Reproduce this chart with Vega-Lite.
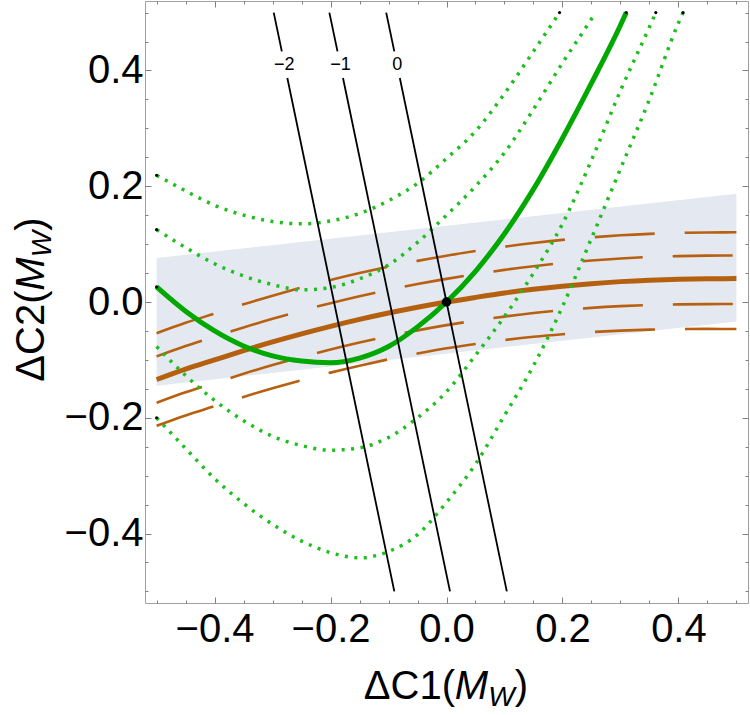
{
  "$schema": "https://vega.github.io/schema/vega-lite/v6.json",
  "width": 603,
  "height": 602,
  "autosize": {"type": "none"},
  "padding": {"left": 145, "top": 1, "right": 2, "bottom": 112},
  "background": "white",
  "config": {
    "view": {"stroke": "#a0a0a0", "strokeWidth": 1},
    "font": "Liberation Sans"
  },
  "datasets": {
    "band": [
      {"x": -0.5, "y": 0.076, "lo": -0.1446},
      {"x": 0.5, "y": 0.187, "lo": -0.0335}
    ],
    "curves": [
      {"s": "brown", "x": -0.5, "y": -0.134}, {"s": "brown", "x": -0.45, "y": -0.116}, {"s": "brown", "x": -0.4, "y": -0.1}, {"s": "brown", "x": -0.35, "y": -0.084}, {"s": "brown", "x": -0.3, "y": -0.069}, {"s": "brown", "x": -0.25, "y": -0.055}, {"s": "brown", "x": -0.2, "y": -0.042}, {"s": "brown", "x": -0.15, "y": -0.03}, {"s": "brown", "x": -0.1, "y": -0.019}, {"s": "brown", "x": -0.05, "y": -0.009}, {"s": "brown", "x": 0, "y": 0}, {"s": "brown", "x": 0.05, "y": 0.008}, {"s": "brown", "x": 0.1, "y": 0.0155}, {"s": "brown", "x": 0.15, "y": 0.0219}, {"s": "brown", "x": 0.2, "y": 0.0273}, {"s": "brown", "x": 0.25, "y": 0.0317}, {"s": "brown", "x": 0.3, "y": 0.0352}, {"s": "brown", "x": 0.35, "y": 0.0377}, {"s": "brown", "x": 0.4, "y": 0.0393}, {"s": "brown", "x": 0.45, "y": 0.0401}, {"s": "brown", "x": 0.5, "y": 0.0404},

      {"s": "u2", "x": -0.5, "y": -0.054}, {"s": "u2", "x": -0.45, "y": -0.036}, {"s": "u2", "x": -0.4, "y": -0.02}, {"s": "u2", "x": -0.35, "y": -0.004}, {"s": "u2", "x": -0.3, "y": 0.011}, {"s": "u2", "x": -0.25, "y": 0.025}, {"s": "u2", "x": -0.2, "y": 0.038}, {"s": "u2", "x": -0.15, "y": 0.05}, {"s": "u2", "x": -0.1, "y": 0.061}, {"s": "u2", "x": -0.05, "y": 0.071}, {"s": "u2", "x": 0, "y": 0.08}, {"s": "u2", "x": 0.05, "y": 0.088}, {"s": "u2", "x": 0.1, "y": 0.0955}, {"s": "u2", "x": 0.15, "y": 0.1019}, {"s": "u2", "x": 0.2, "y": 0.1073}, {"s": "u2", "x": 0.25, "y": 0.1117}, {"s": "u2", "x": 0.3, "y": 0.1152}, {"s": "u2", "x": 0.35, "y": 0.1177}, {"s": "u2", "x": 0.4, "y": 0.1193}, {"s": "u2", "x": 0.45, "y": 0.1201}, {"s": "u2", "x": 0.5, "y": 0.1204},

      {"s": "l2", "x": -0.5, "y": -0.214}, {"s": "l2", "x": -0.45, "y": -0.196}, {"s": "l2", "x": -0.4, "y": -0.18}, {"s": "l2", "x": -0.35, "y": -0.164}, {"s": "l2", "x": -0.3, "y": -0.149}, {"s": "l2", "x": -0.25, "y": -0.135}, {"s": "l2", "x": -0.2, "y": -0.122}, {"s": "l2", "x": -0.15, "y": -0.11}, {"s": "l2", "x": -0.1, "y": -0.099}, {"s": "l2", "x": -0.05, "y": -0.089}, {"s": "l2", "x": 0, "y": -0.08}, {"s": "l2", "x": 0.05, "y": -0.0725}, {"s": "l2", "x": 0.1, "y": -0.0658}, {"s": "l2", "x": 0.15, "y": -0.0601}, {"s": "l2", "x": 0.2, "y": -0.0556}, {"s": "l2", "x": 0.25, "y": -0.052}, {"s": "l2", "x": 0.3, "y": -0.0494}, {"s": "l2", "x": 0.35, "y": -0.0477}, {"s": "l2", "x": 0.4, "y": -0.0468}, {"s": "l2", "x": 0.45, "y": -0.0465}, {"s": "l2", "x": 0.5, "y": -0.0466},

      {"s": "u1", "x": -0.5, "y": -0.094}, {"s": "u1", "x": -0.45, "y": -0.076}, {"s": "u1", "x": -0.4, "y": -0.06}, {"s": "u1", "x": -0.35, "y": -0.044}, {"s": "u1", "x": -0.3, "y": -0.029}, {"s": "u1", "x": -0.25, "y": -0.015}, {"s": "u1", "x": -0.2, "y": -0.002}, {"s": "u1", "x": -0.15, "y": 0.01}, {"s": "u1", "x": -0.1, "y": 0.021}, {"s": "u1", "x": -0.05, "y": 0.031}, {"s": "u1", "x": 0, "y": 0.04}, {"s": "u1", "x": 0.05, "y": 0.048}, {"s": "u1", "x": 0.1, "y": 0.0555}, {"s": "u1", "x": 0.15, "y": 0.0619}, {"s": "u1", "x": 0.2, "y": 0.0673}, {"s": "u1", "x": 0.25, "y": 0.0717}, {"s": "u1", "x": 0.3, "y": 0.0752}, {"s": "u1", "x": 0.35, "y": 0.0777}, {"s": "u1", "x": 0.4, "y": 0.0793}, {"s": "u1", "x": 0.45, "y": 0.0801}, {"s": "u1", "x": 0.5, "y": 0.0804},

      {"s": "l1", "x": -0.5, "y": -0.174}, {"s": "l1", "x": -0.45, "y": -0.156}, {"s": "l1", "x": -0.4, "y": -0.14}, {"s": "l1", "x": -0.35, "y": -0.124}, {"s": "l1", "x": -0.3, "y": -0.109}, {"s": "l1", "x": -0.25, "y": -0.095}, {"s": "l1", "x": -0.2, "y": -0.082}, {"s": "l1", "x": -0.15, "y": -0.07}, {"s": "l1", "x": -0.1, "y": -0.059}, {"s": "l1", "x": -0.05, "y": -0.049}, {"s": "l1", "x": 0, "y": -0.04}, {"s": "l1", "x": 0.05, "y": -0.0322}, {"s": "l1", "x": 0.1, "y": -0.0252}, {"s": "l1", "x": 0.15, "y": -0.0191}, {"s": "l1", "x": 0.2, "y": -0.0141}, {"s": "l1", "x": 0.25, "y": -0.0101}, {"s": "l1", "x": 0.3, "y": -0.0072}, {"s": "l1", "x": 0.35, "y": -0.0052}, {"s": "l1", "x": 0.4, "y": -0.0041}, {"s": "l1", "x": 0.45, "y": -0.0036}, {"s": "l1", "x": 0.5, "y": -0.0035},

      {"s": "green", "x": -0.5, "y": 0.026}, {"s": "green", "x": -0.45, "y": -0.016}, {"s": "green", "x": -0.4, "y": -0.05}, {"s": "green", "x": -0.35, "y": -0.076}, {"s": "green", "x": -0.3, "y": -0.093}, {"s": "green", "x": -0.25, "y": -0.102}, {"s": "green", "x": -0.2, "y": -0.105}, {"s": "green", "x": -0.15, "y": -0.097}, {"s": "green", "x": -0.1, "y": -0.077}, {"s": "green", "x": -0.05, "y": -0.043}, {"s": "green", "x": 0, "y": 0}, {"s": "green", "x": 0.05, "y": 0.053}, {"s": "green", "x": 0.1, "y": 0.118}, {"s": "green", "x": 0.15, "y": 0.195}, {"s": "green", "x": 0.2, "y": 0.283}, {"s": "green", "x": 0.25, "y": 0.378}, {"s": "green", "x": 0.3, "y": 0.478}, {"s": "green", "x": 0.31, "y": 0.5},

      {"s": "gA", "x": -0.5, "y": 0.219}, {"s": "gA", "x": -0.45, "y": 0.192}, {"s": "gA", "x": -0.4, "y": 0.167}, {"s": "gA", "x": -0.35, "y": 0.15}, {"s": "gA", "x": -0.3, "y": 0.139}, {"s": "gA", "x": -0.25, "y": 0.135}, {"s": "gA", "x": -0.2, "y": 0.14}, {"s": "gA", "x": -0.15, "y": 0.153}, {"s": "gA", "x": -0.1, "y": 0.175}, {"s": "gA", "x": -0.05, "y": 0.205}, {"s": "gA", "x": 0, "y": 0.248}, {"s": "gA", "x": 0.05, "y": 0.295}, {"s": "gA", "x": 0.1, "y": 0.36}, {"s": "gA", "x": 0.15, "y": 0.433}, {"s": "gA", "x": 0.195, "y": 0.5},

      {"s": "gB", "x": -0.5, "y": 0.125}, {"s": "gB", "x": -0.45, "y": 0.094}, {"s": "gB", "x": -0.4, "y": 0.066}, {"s": "gB", "x": -0.35, "y": 0.045}, {"s": "gB", "x": -0.3, "y": 0.03}, {"s": "gB", "x": -0.25, "y": 0.021}, {"s": "gB", "x": -0.2, "y": 0.025}, {"s": "gB", "x": -0.15, "y": 0.04}, {"s": "gB", "x": -0.1, "y": 0.064}, {"s": "gB", "x": -0.05, "y": 0.103}, {"s": "gB", "x": 0, "y": 0.15}, {"s": "gB", "x": 0.05, "y": 0.2}, {"s": "gB", "x": 0.1, "y": 0.258}, {"s": "gB", "x": 0.15, "y": 0.333}, {"s": "gB", "x": 0.2, "y": 0.413}, {"s": "gB", "x": 0.25, "y": 0.489}, {"s": "gB", "x": 0.257, "y": 0.5},

      {"s": "gC", "x": -0.5, "y": -0.077}, {"s": "gC", "x": -0.45, "y": -0.127}, {"s": "gC", "x": -0.4, "y": -0.17}, {"s": "gC", "x": -0.35, "y": -0.205}, {"s": "gC", "x": -0.3, "y": -0.232}, {"s": "gC", "x": -0.25, "y": -0.248}, {"s": "gC", "x": -0.2, "y": -0.256}, {"s": "gC", "x": -0.15, "y": -0.252}, {"s": "gC", "x": -0.1, "y": -0.234}, {"s": "gC", "x": -0.05, "y": -0.2}, {"s": "gC", "x": 0, "y": -0.155}, {"s": "gC", "x": 0.05, "y": -0.092}, {"s": "gC", "x": 0.1, "y": -0.025}, {"s": "gC", "x": 0.15, "y": 0.05}, {"s": "gC", "x": 0.2, "y": 0.135}, {"s": "gC", "x": 0.25, "y": 0.245}, {"s": "gC", "x": 0.3, "y": 0.365}, {"s": "gC", "x": 0.35, "y": 0.475}, {"s": "gC", "x": 0.361, "y": 0.5},

      {"s": "gD", "x": -0.5, "y": -0.2}, {"s": "gD", "x": -0.45, "y": -0.253}, {"s": "gD", "x": -0.4, "y": -0.305}, {"s": "gD", "x": -0.35, "y": -0.348}, {"s": "gD", "x": -0.3, "y": -0.384}, {"s": "gD", "x": -0.25, "y": -0.413}, {"s": "gD", "x": -0.2, "y": -0.433}, {"s": "gD", "x": -0.15, "y": -0.442}, {"s": "gD", "x": -0.1, "y": -0.431}, {"s": "gD", "x": -0.05, "y": -0.402}, {"s": "gD", "x": 0, "y": -0.346}, {"s": "gD", "x": 0.05, "y": -0.28}, {"s": "gD", "x": 0.1, "y": -0.196}, {"s": "gD", "x": 0.15, "y": -0.11}, {"s": "gD", "x": 0.2, "y": -0.008}, {"s": "gD", "x": 0.25, "y": 0.11}, {"s": "gD", "x": 0.3, "y": 0.23}, {"s": "gD", "x": 0.35, "y": 0.35}, {"s": "gD", "x": 0.4, "y": 0.482}, {"s": "gD", "x": 0.408, "y": 0.5}
    ],
    "contours": [
      {"level": "-2", "x": -0.298, "y": 0.5, "x2": -0.284, "y2": 0.433},
      {"level": "-2", "x": -0.2745, "y": 0.387, "x2": -0.09, "y2": -0.5},
      {"level": "-1", "x": -0.202, "y": 0.5, "x2": -0.188, "y2": 0.433},
      {"level": "-1", "x": -0.1785, "y": 0.387, "x2": 0.006, "y2": -0.5},
      {"level": "0", "x": -0.104, "y": 0.5, "x2": -0.09, "y2": 0.433},
      {"level": "0", "x": -0.0805, "y": 0.387, "x2": 0.104, "y2": -0.5}
    ],
    "contourLabels": [
      {"x": -0.28, "y": 0.409, "t": "−2"},
      {"x": -0.183, "y": 0.409, "t": "−1"},
      {"x": -0.085, "y": 0.409, "t": "0"}
    ],
    "ends": [
      {"x": -0.5, "y": 0.219}, {"x": 0.195, "y": 0.5},
      {"x": -0.5, "y": 0.125},
      {"x": -0.5, "y": 0.026}, {"x": 0.31, "y": 0.5},
      {"x": 0.361, "y": 0.5},
      {"x": -0.5, "y": -0.2}, {"x": 0.408, "y": 0.5}
    ],
    "origin": [{"x": 0, "y": 0}],
    "titles": [
      {"part": "xa", "x": -0.1426, "y": -0.685, "t": "ΔC1("},
      {"part": "xm", "x": 0.0143, "y": -0.685, "t": "M"},
      {"part": "xw", "x": 0.0721, "y": -0.685, "t": "W"},
      {"part": "xb", "x": 0.1178, "y": -0.685, "t": ")"},
      {"part": "ya", "x": -0.6943, "y": -0.1377, "t": "ΔC2("},
      {"part": "ym", "x": -0.6943, "y": 0.0195, "t": "M"},
      {"part": "yw", "x": -0.6943, "y": 0.0774, "t": "W"},
      {"part": "yb", "x": -0.6943, "y": 0.123, "t": ")"}
    ]
  },
  "encoding": {
    "x": {"field": "x", "type": "quantitative", "scale": {"domain": [-0.52, 0.52], "nice": false, "zero": false}, "axis": null},
    "y": {"field": "y", "type": "quantitative", "scale": {"domain": [-0.52, 0.52], "nice": false, "zero": false}, "axis": null}
  },
  "layer": [
    {
      "data": {"name": "band"},
      "mark": {"type": "area", "color": "#e3e8f1", "opacity": 1},
      "encoding": {
        "x": {
          "field": "x", "type": "quantitative",
          "scale": {"domain": [-0.52, 0.52], "nice": false, "zero": false},
          "axis": {
            "orient": "bottom", "title": null, "grid": false, "domain": false,
            "values": [-0.5, -0.45, -0.4, -0.35, -0.3, -0.25, -0.2, -0.15, -0.1, -0.05, 0, 0.05, 0.1, 0.15, 0.2, 0.25, 0.3, 0.35, 0.4, 0.45, 0.5],
            "labelExpr": "round(datum.value*20) % 4 == 0 ? replace(format(datum.value, '.1f'), '-', '−') : ''",
            "labelFont": "Liberation Sans", "labelFontSize": 40, "labelColor": "#000000",
            "labelPadding": 12, "labelOverlap": false, "labelFlush": false,
            "tickColor": "#808080", "tickWidth": 1,
            "tickSize": {"condition": {"test": "round(datum.value*20) % 4 == 0", "value": -6}, "value": -3}
          }
        },
        "y": {
          "field": "y", "type": "quantitative",
          "scale": {"domain": [-0.52, 0.52], "nice": false, "zero": false},
          "axis": {
            "orient": "left", "title": null, "grid": false, "domain": false,
            "values": [-0.5, -0.45, -0.4, -0.35, -0.3, -0.25, -0.2, -0.15, -0.1, -0.05, 0, 0.05, 0.1, 0.15, 0.2, 0.25, 0.3, 0.35, 0.4, 0.45, 0.5],
            "labelExpr": "round(datum.value*20) % 4 == 0 ? replace(format(datum.value, '.1f'), '-', '−') : ''",
            "labelFont": "Liberation Sans", "labelFontSize": 40, "labelColor": "#000000",
            "labelPadding": 8, "labelOverlap": false, "labelFlush": false,
            "tickColor": "#808080", "tickWidth": 1,
            "tickSize": {"condition": {"test": "round(datum.value*20) % 4 == 0", "value": -6}, "value": -3}
          }
        },
        "y2": {"field": "lo"}
      }
    },
    {
      "data": {"name": "curves"},
      "transform": [{"filter": "datum.s == 'u2' || datum.s == 'l2'"}],
      "mark": {"type": "line", "color": "#b8600f", "strokeWidth": 2.6, "strokeDash": [60, 30], "strokeCap": "butt", "interpolate": "monotone"},
      "encoding": {
        "x": {
          "field": "x", "type": "quantitative",
          "scale": {"domain": [-0.52, 0.52], "nice": false, "zero": false},
          "axis": {
            "orient": "top", "title": null, "grid": false, "domain": false, "labels": false,
            "values": [-0.5, -0.45, -0.4, -0.35, -0.3, -0.25, -0.2, -0.15, -0.1, -0.05, 0, 0.05, 0.1, 0.15, 0.2, 0.25, 0.3, 0.35, 0.4, 0.45, 0.5],
            "tickColor": "#808080", "tickWidth": 1,
            "tickSize": {"condition": {"test": "round(datum.value*20) % 4 == 0", "value": -6}, "value": -3}
          }
        },
        "y": {
          "field": "y", "type": "quantitative",
          "scale": {"domain": [-0.52, 0.52], "nice": false, "zero": false},
          "axis": {
            "orient": "right", "title": null, "grid": false, "domain": false, "labels": false,
            "values": [-0.5, -0.45, -0.4, -0.35, -0.3, -0.25, -0.2, -0.15, -0.1, -0.05, 0, 0.05, 0.1, 0.15, 0.2, 0.25, 0.3, 0.35, 0.4, 0.45, 0.5],
            "tickColor": "#808080", "tickWidth": 1,
            "tickSize": {"condition": {"test": "round(datum.value*20) % 4 == 0", "value": -6}, "value": -3}
          }
        },
        "detail": {"field": "s"}
      }
    },
    {
      "data": {"name": "curves"},
      "transform": [{"filter": "datum.s == 'u1' || datum.s == 'l1'"}],
      "mark": {"type": "line", "color": "#b8600f", "strokeWidth": 2.6, "strokeDash": [60, 30], "strokeDashOffset": 12, "strokeCap": "butt", "interpolate": "monotone"},
      "encoding": {"detail": {"field": "s"}}
    },
    {
      "data": {"name": "curves"},
      "transform": [{"filter": "datum.s == 'brown'"}],
      "mark": {"type": "line", "color": "#b5600f", "strokeWidth": 5, "interpolate": "monotone"},
      "encoding": {}
    },
    {
      "data": {"name": "curves"},
      "transform": [{"filter": "indexof(['gA','gB','gC','gD'], datum.s) >= 0"}],
      "mark": {"type": "line", "color": "#1cbf1c", "strokeWidth": 3.5, "strokeDash": [3, 6.5], "strokeCap": "butt", "interpolate": "monotone"},
      "encoding": {"detail": {"field": "s"}}
    },
    {
      "data": {"name": "curves"},
      "transform": [{"filter": "datum.s == 'green'"}],
      "mark": {"type": "line", "color": "#00a800", "strokeWidth": 5, "interpolate": "monotone"},
      "encoding": {}
    },
    {
      "data": {"name": "ends"},
      "mark": {"type": "point", "filled": true, "color": "#000000", "size": 10, "opacity": 1},
      "encoding": {}
    },
    {
      "data": {"name": "contours"},
      "mark": {"type": "rule", "color": "#000000", "strokeWidth": 1.8},
      "encoding": {
        "x2": {"field": "x2"},
        "y2": {"field": "y2"}
      }
    },
    {
      "data": {"name": "contourLabels"},
      "mark": {"type": "text", "font": "Liberation Sans", "fontSize": 18, "color": "#000000", "align": "center", "baseline": "middle"},
      "encoding": {"text": {"field": "t"}}
    },
    {
      "data": {"name": "origin"},
      "mark": {"type": "point", "filled": true, "color": "#000000", "size": 90, "opacity": 1},
      "encoding": {}
    },
    {
      "data": {"name": "titles"},
      "transform": [{"filter": "datum.part == 'xa' || datum.part == 'xb'"}],
      "mark": {"type": "text", "font": "Liberation Sans", "fontSize": 40, "color": "#000000", "align": "left", "baseline": "alphabetic"},
      "encoding": {"text": {"field": "t"}}
    },
    {
      "data": {"name": "titles"},
      "transform": [{"filter": "datum.part == 'xm'"}],
      "mark": {"type": "text", "font": "Liberation Sans", "fontSize": 40, "fontStyle": "italic", "color": "#000000", "align": "left", "baseline": "alphabetic"},
      "encoding": {"text": {"field": "t"}}
    },
    {
      "data": {"name": "titles"},
      "transform": [{"filter": "datum.part == 'xw'"}],
      "mark": {"type": "text", "font": "Liberation Sans", "fontSize": 28, "fontStyle": "italic", "color": "#000000", "align": "left", "baseline": "alphabetic", "dy": 7},
      "encoding": {"text": {"field": "t"}}
    },
    {
      "data": {"name": "titles"},
      "transform": [{"filter": "datum.part == 'ya' || datum.part == 'yb'"}],
      "mark": {"type": "text", "font": "Liberation Sans", "fontSize": 40, "color": "#000000", "align": "left", "baseline": "alphabetic", "angle": 270},
      "encoding": {"text": {"field": "t"}}
    },
    {
      "data": {"name": "titles"},
      "transform": [{"filter": "datum.part == 'ym'"}],
      "mark": {"type": "text", "font": "Liberation Sans", "fontSize": 40, "fontStyle": "italic", "color": "#000000", "align": "left", "baseline": "alphabetic", "angle": 270},
      "encoding": {"text": {"field": "t"}}
    },
    {
      "data": {"name": "titles"},
      "transform": [{"filter": "datum.part == 'yw'"}],
      "mark": {"type": "text", "font": "Liberation Sans", "fontSize": 28, "fontStyle": "italic", "color": "#000000", "align": "left", "baseline": "alphabetic", "angle": 270, "dy": 7},
      "encoding": {"text": {"field": "t"}}
    }
  ],
  "resolve": {"axis": {"x": "independent", "y": "independent"}}
}
